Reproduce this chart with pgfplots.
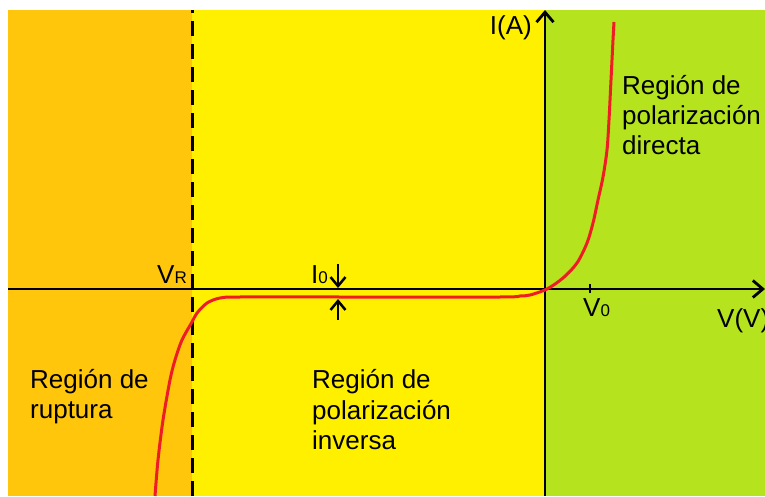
\documentclass[border=0pt]{standalone}
\usepackage{pgfplots}
\pgfplotsset{compat=1.18}
\usepackage{fontspec}
\setmainfont{Liberation Sans}
\usetikzlibrary{arrows.meta}
\definecolor{bgorange}{HTML}{FFC60C}
\definecolor{bgyellow}{HTML}{FFF000}
\definecolor{bggreen}{HTML}{B5E41E}
\definecolor{curvered}{HTML}{EE1C25}
\newcommand{\lbl}{\fontsize{26}{30}\selectfont}
\newcommand{\sbs}{\fontsize{17}{17}\selectfont}
\begin{document}
\begin{tikzpicture}
\begin{axis}[
  hide axis, scale only axis,
  width=765pt, height=496pt,
  xmin=-545, xmax=220, ymin=-207, ymax=289,
  clip=false,
]
% background regions
\addplot[draw=none, fill=bgorange] coordinates {(-537,-207) (-353,-207) (-353,279) (-537,279)} -- cycle;
\addplot[draw=none, fill=bgyellow] coordinates {(-353,-207) (0,-207) (0,279) (-353,279)} -- cycle;
\addplot[draw=none, fill=bggreen] coordinates {(0,-207) (220,-207) (220,279) (0,279)} -- cycle;
% dashed V_R line
\addplot[black, line width=3pt, dash pattern=on 15pt off 8pt] coordinates {(-353,-207) (-353,279)};
% axes
\addplot[black, line width=2.8pt, -{Straight Barb[length=10pt,width=17pt]}] coordinates {(-537,0) (220,0)};
\addplot[black, line width=2.8pt, -{Straight Barb[length=10pt,width=17pt]}] coordinates {(0,-207) (0,279)};
% V0 tick
\addplot[black, line width=2.8pt] coordinates {(45,5) (45,-4)};
% diode curve
\addplot[curvered, line width=3pt, smooth, tension=0.5] coordinates {
(-390,-207) (-387,-171) (-382,-131) (-375,-91) (-370,-71) (-363,-51) (-353,-33)
(-348,-24) (-338,-14) (-325,-9) (-305,-8) (-200,-8) (-45,-8) (-25,-7) (-15,-6)
(2,0) (18,11) (32,26) (42,46) (48,66) (53,89) (58,112) (62,139) (64,169)
(66,209) (68,249) (69,267)};
% I0 arrows
\addplot[black, line width=2.5pt, -{Straight Barb[length=9pt,width=15pt]}] coordinates {(-207,25) (-207,1)};
\addplot[black, line width=2.5pt, -{Straight Barb[length=9pt,width=15pt]}] coordinates {(-207,-31) (-207,-10)};
% labels
\node[anchor=base west, inner sep=0pt] at (axis cs:-388,6) {\lbl V\sbs R};
\node[anchor=base west, inner sep=0pt] at (axis cs:-234,6) {\lbl I\sbs 0};
\node[anchor=base west, inner sep=0pt] at (axis cs:38,-27) {\lbl V\sbs 0};
\node[anchor=base east, inner sep=0pt] at (axis cs:-13,254) {\lbl I(A)};
\node[anchor=base west, inner sep=0pt] at (axis cs:172,-38) {\lbl V(V)};
\node[anchor=base west, inner sep=0pt] at (axis cs:-515,-99) {\lbl Región de};
\node[anchor=base west, inner sep=0pt] at (axis cs:-515,-129) {\lbl ruptura};
\node[anchor=base west, inner sep=0pt] at (axis cs:-233,-99) {\lbl Región de};
\node[anchor=base west, inner sep=0pt] at (axis cs:-233,-130) {\lbl polarización};
\node[anchor=base west, inner sep=0pt] at (axis cs:-233,-160) {\lbl inversa};
\node[anchor=base west, inner sep=0pt] at (axis cs:77,194) {\lbl Región de};
\node[anchor=base west, inner sep=0pt] at (axis cs:77,164) {\lbl polarización};
\node[anchor=base west, inner sep=0pt] at (axis cs:77,134) {\lbl directa};
\end{axis}
\pgfresetboundingbox
\path (current axis.south west) rectangle (current axis.north east);
\end{tikzpicture}
\end{document}
